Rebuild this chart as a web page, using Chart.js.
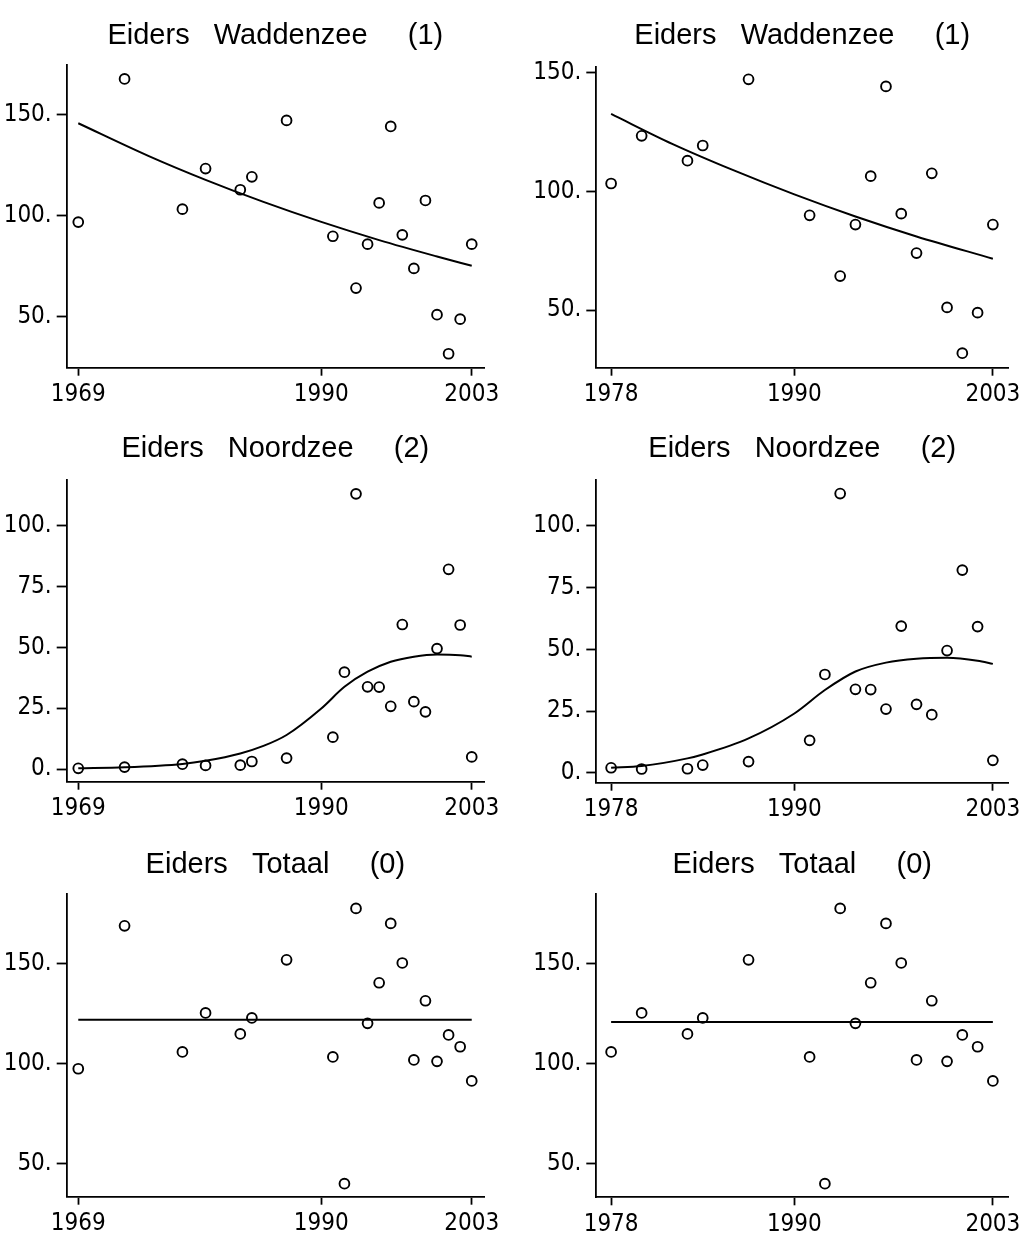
<!DOCTYPE html>
<html lang="nl">
<head>
<meta charset="UTF-8">
<title>Eiders</title>
<style>
  body { margin: 0; background: #fff; }
  .panel { position: absolute; width: 513px; }
</style>
</head>
<body>
<div class="panel" style="left:0;top:0;height:410px"><canvas id="wadL"></canvas></div>
<div class="panel" style="left:513px;top:0;height:410px"><canvas id="wadR"></canvas></div>
<div class="panel" style="left:0;top:410px;height:410px"><canvas id="noordL"></canvas></div>
<div class="panel" style="left:513px;top:410px;height:410px"><canvas id="noordR"></canvas></div>
<div class="panel" style="left:0;top:820px;height:418px"><canvas id="totL"></canvas></div>
<div class="panel" style="left:513px;top:820px;height:418px"><canvas id="totR"></canvas></div>

<script src="https://cdn.jsdelivr.net/npm/chart.js@4"></script>
<script>
// telling jaren (1992 ontbreekt in de Waddenzee reeks)
const years = [1969, 1973, 1978, 1980, 1983, 1984, 1987, 1991, 1992, 1993, 1994, 1995, 1996, 1997, 1998, 1999, 2000, 2001, 2002, 2003];
const wadden = [96.9, 167.7, 103.3, 123.4, 112.9, 119.3, 147.2, 89.9, null, 64.3, 86.0, 106.4, 144.2, 90.6, 74.0, 107.6, 51.1, 31.8, 48.9, 86.0];
const noordzee = [0.3, 0.8, 2.0, 1.5, 1.6, 3.1, 4.5, 13.1, 39.8, 113.1, 33.8, 33.7, 25.8, 59.4, 27.7, 23.5, 49.5, 82.1, 59.2, 5.0];
const totaal = [97.3, 168.8, 105.7, 125.2, 114.7, 122.7, 151.8, 103.2, 39.8, 177.5, 120.0, 140.3, 170.0, 150.2, 101.7, 131.3, 101.0, 114.2, 108.3, 91.2];

// fitted trend curves
const fitWadL_x = [1969, 1975, 1980, 1985, 1990, 1995, 2000, 2003];
const fitWadL_y = [145.8, 129.8, 117.8, 106.9, 97.0, 88.0, 79.9, 75.3];
const fitWadR_x = [1978, 1982, 1986, 1990, 1994, 1998, 2003];
const fitWadR_y = [132.6, 120.0, 108.9, 98.7, 89.4, 81.0, 71.6];
const fitNoordL_x = [1969, 1973, 1978, 1980, 1983, 1985, 1987, 1990, 1992, 1994, 1996, 1998, 2000, 2002, 2003];
const fitNoordL_y = [0.3, 0.7, 2.1, 3.4, 6.4, 9.5, 14.0, 24.9, 33.8, 40.0, 44.1, 46.2, 47.1, 46.8, 46.2];
const fitNoordR_x = [1978, 1980, 1983, 1984, 1987, 1990, 1992, 1994, 1996, 1998, 2000, 2002, 2003];
const fitNoordR_y = [2.0, 2.7, 5.8, 7.4, 13.9, 24.0, 33.5, 41.0, 44.6, 46.2, 46.6, 45.4, 44.1];
const fitTotL_x = [1969, 2003];
const fitTotL_y = [121.8, 121.8];
const fitTotR_x = [1978, 2003];
const fitTotR_y = [120.7, 120.7];

// tick labels
const xTicksL = [1969, 1990, 2003];
const xTicksR = [1978, 1990, 2003];
const yTicksWad = [50, 100, 150];
const yTicksNoord = [0, 25, 50, 75, 100];
const yTicksTot = [50, 100, 150];

const titleWad = 'Eiders   Waddenzee     (1)';
const titleNoord = 'Eiders   Noordzee     (2)';
const titleTot = 'Eiders   Totaal     (0)';

const tickFont = { family: "'Liberation Sans Narrow', 'DejaVu Sans Condensed', sans-serif", size: 24, lineHeight: 1.2 };
const titleFont = { family: "'Liberation Sans', Arial, sans-serif", size: 29, weight: 'normal', lineHeight: 1.2 };

function points(fromYear, values) {
    const out = [];
    years.forEach((y, i) => {
        if (y >= fromYear && values[i] !== null) out.push({ x: y, y: values[i] });
    });
    return out;
}

function makePanel(id, p) {
    const fit = p.fitX.map((x, i) => ({ x: x, y: p.fitY[i] }));
    return new Chart(document.getElementById(id), {
        type: 'scatter',
        data: {
            datasets: [{
                data: points(p.from, p.values),
                pointStyle: 'circle',
                pointRadius: 4.9,
                pointBorderWidth: 1.9,
                borderColor: '#000',
                backgroundColor: 'rgba(0,0,0,0)',
                showLine: false
            }, {
                data: fit,
                showLine: true,
                pointRadius: 0,
                borderColor: '#000',
                borderWidth: 2,
                cubicInterpolationMode: 'monotone',
                fill: false
            }]
        },
        options: {
            responsive: true,
            maintainAspectRatio: false,
            animation: false,
            devicePixelRatio: 1,
            layout: { padding: { left: 0, right: p.padRight, top: 0, bottom: 0 } },
            plugins: {
                legend: { display: false },
                tooltip: { enabled: false },
                title: {
                    display: true,
                    text: p.title,
                    color: '#000',
                    font: titleFont,
                    fullSize: false,
                    padding: { top: p.titleTop, bottom: p.titleBottom }
                }
            },
            scales: {
                x: {
                    type: 'linear',
                    min: p.xMin,
                    max: p.xMax,
                    afterBuildTicks: s => { s.ticks = p.xTicks.map(v => ({ value: v })); },
                    afterFit: s => { s.height = p.xH; },
                    border: { display: true, color: '#000', width: 1.8 },
                    grid: { drawOnChartArea: false, drawTicks: true, tickLength: 8, tickColor: '#000', tickWidth: 1.8 },
                    ticks: { color: '#000', font: tickFont, padding: 5, maxRotation: 0, autoSkip: false, callback: v => String(v) }
                },
                y: {
                    type: 'linear',
                    min: p.yMin,
                    max: p.yMax,
                    afterBuildTicks: s => { s.ticks = p.yTicks.map(v => ({ value: v })); },
                    afterFit: s => { s.width = p.yW; },
                    border: { display: true, color: '#000', width: 1.8 },
                    grid: { drawOnChartArea: false, drawTicks: true, tickLength: 10, tickColor: '#000', tickWidth: 1.8 },
                    ticks: { color: '#000', font: tickFont, padding: 5, autoSkip: false, callback: v => v + '.' }
                }
            }
        }
    });
}

makePanel('wadL', {
    title: titleWad, from: 1969, values: wadden, fitX: fitWadL_x, fitY: fitWadL_y,
    xTicks: xTicksL, yTicks: yTicksWad, xMin: 1968, xMax: 2004.06, yMin: 24.9, yMax: 174.6,
    yW: 66.7, xH: 42.3, padRight: 29, titleTop: 18.4, titleBottom: 11.8
});
makePanel('wadR', {
    title: titleWad, from: 1978, values: wadden, fitX: fitWadR_x, fitY: fitWadR_y,
    xTicks: xTicksR, yTicks: yTicksWad, xMin: 1977.03, xMax: 2004, yMin: 25.7, yMax: 152.5,
    yW: 83.3, xH: 42.3, padRight: 13, titleTop: 18.4, titleBottom: 13.5
});
makePanel('noordL', {
    title: titleNoord, from: 1969, values: noordzee, fitX: fitNoordL_x, fitY: fitNoordL_y,
    xTicks: xTicksL, yTicks: yTicksNoord, xMin: 1968, xMax: 2004.06, yMin: -5.2, yMax: 118.8,
    yW: 66.7, xH: 38.3, padRight: 29, titleTop: 21.8, titleBottom: 13.4
});
makePanel('noordR', {
    title: titleNoord, from: 1978, values: noordzee, fitX: fitNoordR_x, fitY: fitNoordR_y,
    xTicks: xTicksR, yTicks: yTicksNoord, xMin: 1977.03, xMax: 2004, yMin: -4.05, yMax: 118.6,
    yW: 83.3, xH: 37.3, padRight: 13, titleTop: 21.8, titleBottom: 13.4
});
makePanel('totL', {
    title: titleTot, from: 1969, values: totaal, fitX: fitTotL_x, fitY: fitTotL_y,
    xTicks: xTicksL, yTicks: yTicksTot, xMin: 1968, xMax: 2004.06, yMin: 33.3, yMax: 184.7,
    yW: 66.7, xH: 41.3, padRight: 29, titleTop: 27.6, titleBottom: 11.6
});
makePanel('totR', {
    title: titleTot, from: 1978, values: totaal, fitX: fitTotR_x, fitY: fitTotR_y,
    xTicks: xTicksR, yTicks: yTicksTot, xMin: 1977.03, xMax: 2004, yMin: 33.0, yMax: 184.7,
    yW: 83.3, xH: 40.7, padRight: 13, titleTop: 27.6, titleBottom: 11.6
});
</script>
</body>
</html>
